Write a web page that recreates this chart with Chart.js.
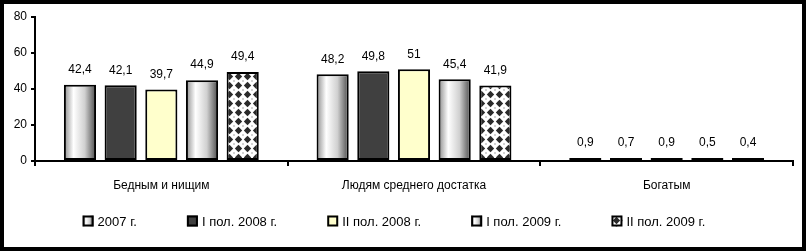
<!DOCTYPE html>
<html>
<head>
<meta charset="utf-8">
<script src="https://cdn.jsdelivr.net/npm/chart.js@4/dist/chart.umd.min.js"></script>
<style>
html,body{margin:0;padding:0;background:#fff;}
#wrap{width:806px;height:251px;position:relative;}
</style>
</head>
<body>
<div id="wrap"><canvas id="c" width="806" height="251"></canvas></div>
<script>
const categories = ['Бедным и нищим', 'Людям среднего достатка', 'Богатым'];
const seriesLabels = ['2007 г.', 'I пол. 2008 г.', 'II пол. 2008 г.', 'I пол. 2009 г.', 'II пол. 2009 г.'];
const s2007 = [42.4, 48.2, 0.9];
const s2008a = [42.1, 49.8, 0.7];
const s2008b = [39.7, 51, 0.9];
const s2009a = [44.9, 45.4, 0.5];
const s2009b = [49.4, 41.9, 0.4];
const yTicks = [0, 20, 40, 60, 80];

const FONT = '"Liberation Sans", Arial, sans-serif';

// diamond pattern
function makePattern() {
  const t = document.createElement('canvas');
  t.width = 9; t.height = 9;
  const g = t.getContext('2d');
  g.fillStyle = '#fff'; g.fillRect(0, 0, 9, 9);
  g.fillStyle = '#2a2a2a';
  g.beginPath();
  g.moveTo(4.5, 0.8); g.lineTo(8.2, 4.5); g.lineTo(4.5, 8.2); g.lineTo(0.8, 4.5); g.closePath();
  g.fill();
  g.fillStyle = '#bbb';
  [[0,0],[9,0],[0,9],[9,9]].forEach(p => { g.fillRect(p[0]-0.8, p[1]-0.8, 1.6, 1.6); });
  return document.getElementById('c').getContext('2d').createPattern(t, 'repeat');
}
const pattern = makePattern();

function metalGradient(ctx, x0, x1) {
  const gr = ctx.createLinearGradient(x0, 0, x1, 0);
  gr.addColorStop(0, '#8c8c8c');
  gr.addColorStop(0.3, '#ffffff');
  gr.addColorStop(0.65, '#d0d0d0');
  gr.addColorStop(1, '#4a4a4a');
  return gr;
}

const fills = ['metal', '#404040', '#ffffcc', 'metal', pattern];
const seriesData = [s2007, s2008a, s2008b, s2009a, s2009b];

const datasets = seriesData.map((d, i) => ({
  label: seriesLabels[i],
  data: d,
  backgroundColor: fills[i] === 'metal' ? '#dddddd' : fills[i],
  metal: fills[i] === 'metal',
  borderColor: '#000',
  borderWidth: 2,
  borderSkipped: false,
  minBarLength: 3,
  categoryPercentage: 0.805,
  barPercentage: 0.79
}));

const metalPlugin = {
  id: 'metal',
  beforeDatasetsDraw(chart) {
    const ctx = chart.ctx;
    chart.data.datasets.forEach((ds, i) => {
      if (!ds.metal) return;
      chart.getDatasetMeta(i).data.forEach(el => {
        const x0 = el.x - el.width / 2, x1 = el.x + el.width / 2;
        el.options = Object.assign({}, el.options, { backgroundColor: metalGradient(ctx, x0, x1) });
      });
    });
  }
};

const labelPlugin = {
  id: 'vlabels',
  afterDatasetsDraw(chart) {
    const ctx = chart.ctx;
    ctx.save();
    ctx.font = '12px ' + FONT;
    ctx.fillStyle = '#000';
    ctx.textAlign = 'center';
    ctx.textBaseline = 'bottom';
    chart.data.datasets.forEach((ds, i) => {
      chart.getDatasetMeta(i).data.forEach((el, j) => {
        ctx.fillText(String(ds.data[j]).replace('.', ','), el.x, el.y - 9);
      });
    });
    ctx.restore();
  }
};

const frameLegendPlugin = {
  id: 'frameLegend',
  beforeDraw(chart) {
    const ctx = chart.ctx;
    ctx.save();
    ctx.fillStyle = '#fff';
    ctx.fillRect(0, 0, chart.width, chart.height);
    ctx.restore();
  },
  afterDraw(chart) {
    const ctx = chart.ctx;
    ctx.save();
    // legend
    ctx.font = '13px ' + FONT;
    ctx.textBaseline = 'middle';
    ctx.textAlign = 'left';
    const box = 11, gapText = 4, gap = 50;
    const widths = seriesLabels.map(l => box + gapText + ctx.measureText(l).width);
    const total = widths.reduce((a, b) => a + b, 0) + gap * (widths.length - 1);
    let x = 394 - total / 2;
    const y = 221;
    seriesLabels.forEach((l, i) => {
      const bx = x, by = y - box / 2;
      let f = fills[i];
      if (f === 'metal') f = metalGradient(ctx, bx, bx + box);
      ctx.fillStyle = f;
      ctx.fillRect(bx, by, box, box);
      ctx.lineWidth = 2;
      ctx.strokeStyle = '#000';
      ctx.strokeRect(bx + 1, by + 1, box - 2, box - 2);
      ctx.fillStyle = '#000';
      ctx.fillText(l, bx + box + gapText, y + 1);
      x += widths[i] + gap;
    });
    // frame
    ctx.lineWidth = 4;
    ctx.strokeStyle = '#000';
    ctx.strokeRect(2, 2, chart.width - 4, chart.height - 4);
    ctx.restore();
  }
};

new Chart(document.getElementById('c'), {
  type: 'bar',
  data: { labels: categories, datasets },
  options: {
    responsive: false,
    animation: false,
    devicePixelRatio: 1,
    layout: { padding: { top: 17, right: 13, bottom: 0, left: 0 } },
    plugins: { legend: { display: false }, tooltip: { enabled: false } },
    scales: {
      x: {
        grid: { offset: true, drawOnChartArea: false, drawTicks: true, tickLength: 5, color: '#000', lineWidth: 2 },
        border: { color: '#000', width: 2 },
        ticks: { color: '#000', font: { size: 12, family: FONT }, padding: 12, maxRotation: 0 },
        afterFit(s) { s.height = 90; }
      },
      y: {
        min: 0, max: 80,
        afterBuildTicks(s) { s.ticks = yTicks.map(v => ({ value: v })); },
        grid: { drawOnChartArea: false, drawTicks: true, tickLength: 4, color: '#000', lineWidth: 2 },
        border: { color: '#000', width: 2 },
        ticks: { color: '#000', font: { size: 12, family: FONT }, padding: 4 },
        afterFit(s) { s.width = 35; }
      }
    }
  },
  plugins: [metalPlugin, labelPlugin, frameLegendPlugin]
});
</script>
</body>
</html>
